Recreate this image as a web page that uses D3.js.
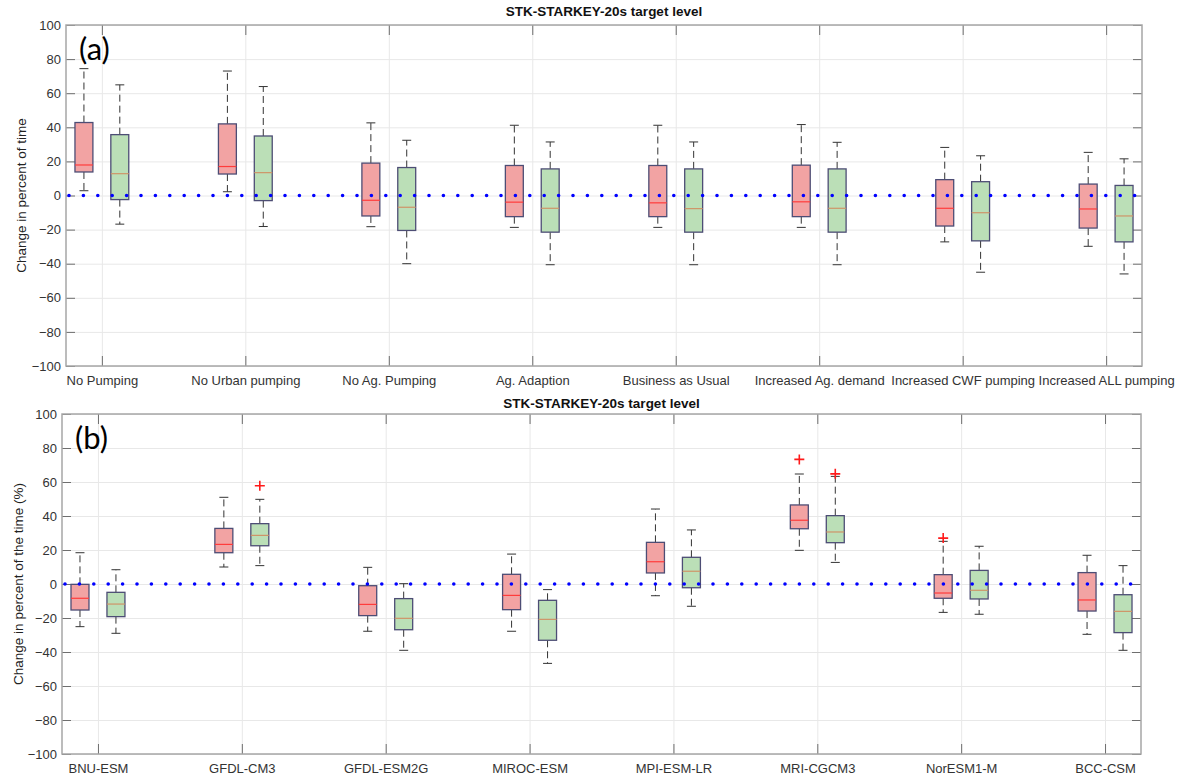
<!DOCTYPE html>
<html>
<head>
<meta charset="utf-8">
<script src="https://cdn.jsdelivr.net/npm/d3@7"></script>
<style>
  body { margin: 0; background: #fff; }
  text { font-family: "Liberation Sans", Arial, sans-serif; }
</style>
</head>
<body>
<svg id="chart" width="1183" height="780"></svg>
<script>
// ---- data ----
const scenarioLabels = ["No Pumping", "No Urban pumping", "No Ag. Pumping", "Ag. Adaption",
  "Business as Usual", "Increased Ag. demand", "Increased CWF pumping", "Increased ALL pumping"];
const modelLabels = ["BNU-ESM", "GFDL-CM3", "GFDL-ESM2G", "MIROC-ESM",
  "MPI-ESM-LR", "MRI-CGCM3", "NorESM1-M", "BCC-CSM"];
const yTicks = [-100, -80, -60, -40, -20, 0, 20, 40, 60, 80, 100];

// five-number summaries: [lower whisker, q1, median, q3, upper whisker]
const scenarioRed = [
  [2.8, 13.8, 17.9, 42.8, 74.4],
  [2.2, 12.6, 17.0, 42.0, 73.0],
  [-18.3, -12.0, -2.8, 19.0, 42.6],
  [-18.7, -12.4, -3.9, 17.6, 41.2],
  [-18.7, -12.4, -4.3, 17.6, 41.2],
  [-18.7, -12.4, -3.7, 17.8, 41.6],
  [-27.2, -17.9, -7.5, 9.3, 28.2],
  [-29.8, -19.1, -7.9, 6.7, 25.3]
];
const scenarioGreen = [
  [-16.8, -2.4, 12.8, 35.7, 64.9],
  [-18.2, -3.0, 13.4, 34.9, 63.9],
  [-40.0, -20.5, -6.9, 16.4, 32.4],
  [-40.6, -21.5, -7.5, 15.6, 31.4],
  [-40.6, -21.5, -7.7, 15.6, 31.4],
  [-40.6, -21.5, -7.5, 15.6, 31.2],
  [-45.0, -26.6, -10.1, 8.1, 23.3],
  [-46.0, -27.2, -12.0, 5.9, 21.5]
];
const modelRed = [
  [-25.1, -15.3, -8.4, -0.2, 18.4],
  [10.0, 18.4, 23.3, 32.7, 51.0],
  [-27.8, -18.6, -12.0, -1.0, 9.8],
  [-27.8, -15.1, -6.7, 5.7, 17.6],
  [-6.9, 6.5, 13.1, 24.5, 44.1],
  [19.8, 32.5, 37.5, 46.5, 64.7],
  [-16.7, -8.4, -5.3, 5.5, 25.1],
  [-29.6, -15.9, -9.4, 6.7, 16.9]
];
const modelGreen = [
  [-29.0, -19.2, -11.8, -4.9, 8.4],
  [10.8, 22.5, 28.6, 35.5, 49.8],
  [-39.0, -26.9, -20.2, -8.6, 0.2],
  [-46.7, -33.1, -20.8, -9.6, -3.3],
  [-13.1, -2.2, 7.5, 15.7, 31.8],
  [12.7, 24.3, 30.6, 40.2, 63.3],
  [-17.8, -8.8, -3.7, 8.0, 22.2],
  [-39.0, -28.6, -16.1, -6.3, 10.8]
];
const modelRedOutliers = [[], [], [], [], [], [73.3], [27.0], []];
const modelGreenOutliers = [[], [57.8], [], [], [], [64.8], [], []];

// ---- layout ----
const svg = d3.select("#chart");
svg.append("rect").attr("width", 1183).attr("height", 780).attr("fill", "#fff");

const panels = [
  { title: "STK-STARKEY-20s target level", yLabel: "Change in percent of time", tag: "(a)",
    labels: scenarioLabels, red: scenarioRed, green: scenarioGreen,
    redOut: scenarioLabels.map(() => []), greenOut: scenarioLabels.map(() => []),
    left: 66, right: 1142, top: 25, bottom: 366, titleY: 16, yLabelX: 21 },
  { title: "STK-STARKEY-20s target level", yLabel: "Change in percent of the time (%)", tag: "(b)",
    labels: modelLabels, red: modelRed, green: modelGreen,
    redOut: modelRedOutliers, greenOut: modelGreenOutliers,
    left: 62, right: 1141, top: 414, bottom: 754, titleY: 408, yLabelX: 18 }
];

const redFill = "#f2a3a3", greenFill = "#bbdfb7";
const boxEdge = "#4d4d75";

panels.forEach(p => {
  const n = p.labels.length;
  const x = d3.scaleLinear().domain([0.875, n + 0.375]).range([p.left, p.right]);
  const y = d3.scaleLinear().domain([-100, 100]).range([p.bottom, p.top]);
  const w = p.right - p.left, h = p.bottom - p.top;
  const tickPos = d3.range(n).map(i => i + 1.125);
  const g = svg.append("g");

  // grid
  g.append("g").attr("transform", `translate(${p.left},0)`)
    .call(d3.axisLeft(y).tickValues(yTicks).tickSize(-w).tickFormat(""))
    .call(a => a.select(".domain").remove())
    .call(a => a.selectAll("line").attr("stroke", "#e8e8e8"));
  g.append("g").attr("transform", `translate(0,${p.bottom})`)
    .call(d3.axisBottom(x).tickValues(tickPos).tickSize(-h).tickFormat(""))
    .call(a => a.select(".domain").remove())
    .call(a => a.selectAll("line").attr("stroke", "#e8e8e8"));

  // axes with inward ticks
  const styleAxis = a => {
    a.select(".domain").remove();
    a.selectAll("line").attr("stroke", "#6e6e6e");
    a.selectAll("text").attr("fill", "#333").attr("font-size", 13);
  };
  g.append("g").attr("transform", `translate(${p.left},0)`)
    .call(d3.axisLeft(y).tickValues(yTicks).tickSize(-9).tickPadding(5).tickFormat(d3.format("d")))
    .call(styleAxis);
  g.append("g").attr("transform", `translate(${p.right},0)`)
    .call(d3.axisRight(y).tickValues(yTicks).tickSize(-9).tickFormat(""))
    .call(styleAxis);
  g.append("g").attr("transform", `translate(0,${p.top})`)
    .call(d3.axisTop(x).tickValues(tickPos).tickSize(-10).tickFormat(""))
    .call(styleAxis);
  g.append("g").attr("transform", `translate(0,${p.bottom})`)
    .call(d3.axisBottom(x).tickValues(tickPos).tickSize(-10).tickPadding(10)
      .tickFormat((d, i) => p.labels[i]))
    .call(styleAxis);

  g.append("rect").attr("x", p.left).attr("y", p.top).attr("width", w).attr("height", h)
    .attr("fill", "none").attr("stroke", "#a6a6a6").attr("stroke-width", 1.5);

  // box plots
  const half = 0.0625;
  const drawSeries = (stats, offset, fill, medColor, outliers) => {
    stats.forEach((s, i) => {
      const cx = x(i + 1 + offset);
      const bx0 = x(i + 1 + offset - half), bx1 = x(i + 1 + offset + half);
      const capHalf = (bx1 - bx0) / 4;
      const [lo, q1, med, q3, hi] = s;
      const bg = g.append("g");
      // whiskers
      [[q3, hi], [q1, lo]].forEach(([a, b]) => {
        bg.append("line").attr("x1", cx).attr("x2", cx).attr("y1", y(a)).attr("y2", y(b))
          .attr("stroke", "#333").attr("stroke-width", 1).attr("stroke-dasharray", "7,4");
      });
      [hi, lo].forEach(v => {
        bg.append("line").attr("x1", cx - capHalf).attr("x2", cx + capHalf)
          .attr("y1", y(v)).attr("y2", y(v)).attr("stroke", "#333").attr("stroke-width", 1);
      });
      bg.append("rect").attr("x", bx0).attr("y", y(q3)).attr("width", bx1 - bx0)
        .attr("height", y(q1) - y(q3)).attr("fill", fill)
        .attr("stroke", boxEdge).attr("stroke-width", 1.3);
      bg.append("line").attr("x1", bx0).attr("x2", bx1).attr("y1", y(med)).attr("y2", y(med))
        .attr("stroke", medColor).attr("stroke-width", 1.2);
      (outliers[i] || []).forEach(v => {
        const ox = cx, oy = y(v);
        bg.append("path").attr("d", `M${ox - 5},${oy}H${ox + 5}M${ox},${oy - 5}V${oy + 5}`)
          .attr("stroke", "#ff1a1a").attr("stroke-width", 1.6).attr("class", "outlier");
      });
    });
  };
  drawSeries(p.red, 0, redFill, "#ff3b3b", p.redOut);
  drawSeries(p.green, 0.25, greenFill, "#cf9468", p.greenOut);

  // zero reference line (dotted)
  g.append("line").attr("x1", x.range()[0]).attr("x2", x.range()[1])
    .attr("y1", y(0)).attr("y2", y(0))
    .attr("stroke", "#0000ff").attr("stroke-width", 3.6)
    .attr("stroke-linecap", "round").attr("stroke-dasharray", "0,14.4")
    .attr("stroke-dashoffset", -3);
  // bring outliers above the dotted line
  g.selectAll(".outlier").raise();

  // texts
  svg.append("text").attr("x", (p.left + p.right) / 2).attr("y", p.titleY)
    .attr("text-anchor", "middle").attr("font-weight", "bold").attr("font-size", 13.5)
    .attr("fill", "#111").text(p.title);
  svg.append("text")
    .attr("transform", `translate(${p.yLabelX},${(p.top + p.bottom) / 2}) rotate(-90)`)
    .attr("text-anchor", "middle").attr("dy", "0.35em").attr("font-size", 13.5)
    .attr("fill", "#222").text(p.yLabel);
  svg.append("text").attr("x", p.left + 13).attr("y", p.top + 35)
    .attr("font-family", "Lato, 'Open Sans', sans-serif").attr("font-size", 31)
    .attr("fill", "#000").style("font-family", "Lato, 'Open Sans', sans-serif").text(p.tag);
});
</script>
</body>
</html>
